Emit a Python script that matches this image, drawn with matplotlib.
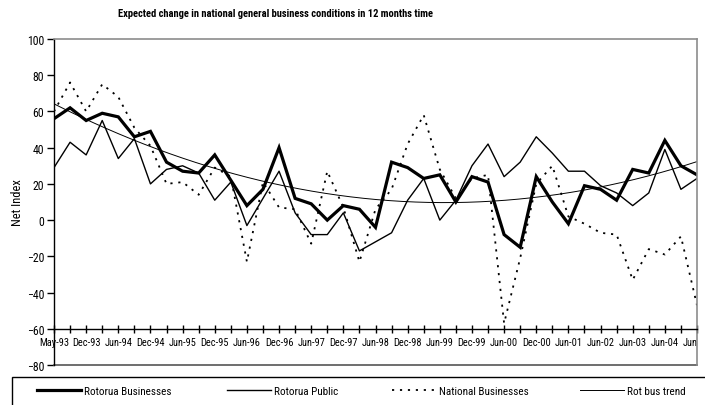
import os
import numpy as np
import matplotlib
matplotlib.use('Agg')
import matplotlib.pyplot as plt
from matplotlib import font_manager
from matplotlib.patches import Rectangle

# Look for a narrow sans font (the original uses Arial Narrow); fall back to Liberation Sans
narrow = None
for fam, stretch in [('Liberation Sans Narrow', 'normal'), ('Arial Narrow', 'normal'),
                     ('Roboto Condensed', 'normal'), ('Open Sans Condensed', 'normal'),
                     ('DejaVu Sans', 'condensed'), ('Noto Sans', 'condensed')]:
    try:
        path = font_manager.findfont(font_manager.FontProperties(family=fam, stretch=stretch),
                                     fallback_to_default=False)
    except Exception:
        continue
    if stretch == 'normal' or 'ondensed' in os.path.basename(path):
        narrow = (fam, stretch)
        break

if narrow:
    plt.rcParams['font.family'] = [narrow[0], 'Liberation Sans']
    plt.rcParams['font.stretch'] = narrow[1]
    scale = 1.0
else:
    plt.rcParams['font.family'] = ['Liberation Sans', 'DejaVu Sans']
    scale = 0.85

# Tick labels (every second period is labelled)
periods = ['May-93', '', 'Dec-93', '', 'Jun-94', '', 'Dec-94', '', 'Jun-95', '',
           'Dec-95', '', 'Jun-96', '', 'Dec-96', '', 'Jun-97', '', 'Dec-97', '',
           'Jun-98', '', 'Dec-98', '', 'Jun-99', '', 'Dec-99', '', 'Jun-00', '',
           'Dec-00', '', 'Jun-01', '', 'Jun-02', '', 'Jun-03', '', 'Jun-04', '',
           'Jun-05']

rotorua_businesses = [56, 62, 55, 59, 57, 46, 49, 32, 27, 26, 36, 22, 8, 17, 40, 12,
                      9, 0, 8, 6, -4, 32, 29, 23, 25, 10, 24, 21, -8, -15, 24, 10,
                      -2, 19, 17, 11, 28, 26, 44, 30, 25]
rotorua_public = [29, 43, 36, 55, 34, 45, 20, 28, 30, 26, 11, 21, -3, 12, 27, 4,
                  -8, -8, 4, -17, -12, -7, 11, 23, 0, 11, 30, 42, 24, 32, 46, 37,
                  27, 27, 19, 15, 8, 15, 39, 17, 23]
national_businesses = [60, 76, 60, 75, 68, 51, 41, 20, 21, 14, 29, 24, -23, 21, 7, 6,
                       -13, 27, 7, -23, 6, 17, 42, 58, 28, 12, 23, 25, -57, -21, 20, 30,
                       2, -2, -7, -8, -33, -16, -19, -9, -47]

x = np.arange(len(periods))
# polynomial (order 2) trend line through Rotorua Businesses
coef = np.polyfit(x, rotorua_businesses, 2)

fig = plt.figure(figsize=(7.05, 4.06), dpi=100)
ax = fig.add_axes([54 / 705, 1 - 366 / 406, (697 - 54) / 705, (366 - 40) / 406])

l1, = ax.plot(x, rotorua_businesses, color='black', lw=2.3, solid_joinstyle='miter')
l2, = ax.plot(x, rotorua_public, color='black', lw=1.0)
l3, = ax.plot(x, national_businesses, color='black', lw=1.3, linestyle=(0, (1.2, 3.2)))
xs = np.linspace(0, len(periods) - 1, 300)
l4, = ax.plot(xs, np.polyval(coef, xs), color='black', lw=0.7)

ax.set_xlim(0, len(periods) - 1)
ax.set_ylim(-80, 100)
ax.set_yticks(np.arange(-80, 101, 20))
ax.set_xticks(x)
ax.set_xticklabels(periods)

for s in ['top', 'right']:
    ax.spines[s].set_color('#8c8c8c')
    ax.spines[s].set_linewidth(1.2)
ax.spines['left'].set_linewidth(1.0)
ax.spines['bottom'].set_position(('data', -60))
ax.spines['bottom'].set_linewidth(1.0)
ax.axhline(-80, color='#555555', lw=1.2, clip_on=False)

ax.tick_params(axis='y', direction='out', length=5, width=1, labelsize=8.5 * scale, pad=2)
ax.tick_params(axis='x', direction='inout', length=6, width=1, labelsize=7.5 * scale, pad=3)
# the last label is cut by the plot-area border in the original
last = ax.get_xticklabels()[-1]
last.set_clip_on(True)
last.set_clip_box(ax.bbox)

ax.set_ylabel('Net Index', fontsize=9 * scale, labelpad=2)

fig.text(275 / 705, 1 - 14 / 406,
         'Expected change in national general business conditions in 12 months time',
         ha='center', va='center', fontsize=7.6 * (0.8 if not narrow else 1.0),
         fontweight='bold')

# legend box running off the bottom/right of the picture
fig.add_artist(Rectangle((12 / 705, -0.2), 1.2, 0.2 + (1 - 378 / 406),
                         transform=fig.transFigure, fill=False, edgecolor='black', lw=1.0))

names = ['Rotorua Businesses', 'Rotorua Public', 'National Businesses', 'Rot bus trend']
starts = [37, 227, 392, 580]
for h, name, sx in zip([l1, l2, l3, l4], names, starts):
    fig.legend([h], [name], loc='center left', bbox_to_anchor=(sx / 705, 1 - 392 / 406),
               frameon=False, fontsize=8 * (0.9 if not narrow else 1.0),
               handlelength=4.0, handletextpad=0.2, borderpad=0, borderaxespad=0)

fig.savefig('out.png', dpi=100)
